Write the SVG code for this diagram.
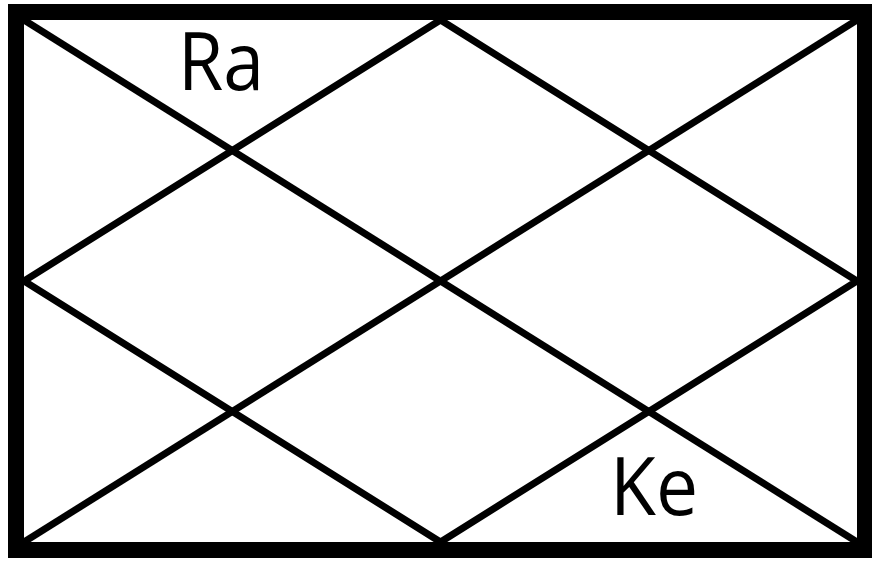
<svg xmlns="http://www.w3.org/2000/svg" width="872" height="561" viewBox="0 0 872 561">
<style>
.ln{stroke:#000;stroke-width:7;fill:none;stroke-linecap:butt}
.lbl{font-family:"Open Sans","Noto Sans",sans-serif;font-size:80px;fill:#000}
</style>
<rect width="872" height="561" fill="#fff"/>
<g id="connectors">
<line class="ln" x1="24" y1="20" x2="857" y2="542"/>
<line class="ln" x1="857" y1="20" x2="24" y2="542"/>
<polygon class="ln" points="440.5,20 857,281 440.5,542 24,281"/>
</g>
<g id="frame">
<rect x="16" y="12" width="849" height="538" fill="none" stroke="#000" stroke-width="16"/>
</g>
<g id="ra"><text class="lbl" x="178" y="90" textLength="86" lengthAdjust="spacingAndGlyphs">Ra</text></g>
<g id="ke"><text class="lbl" x="610" y="515" textLength="88" lengthAdjust="spacingAndGlyphs">Ke</text></g>
</svg>
